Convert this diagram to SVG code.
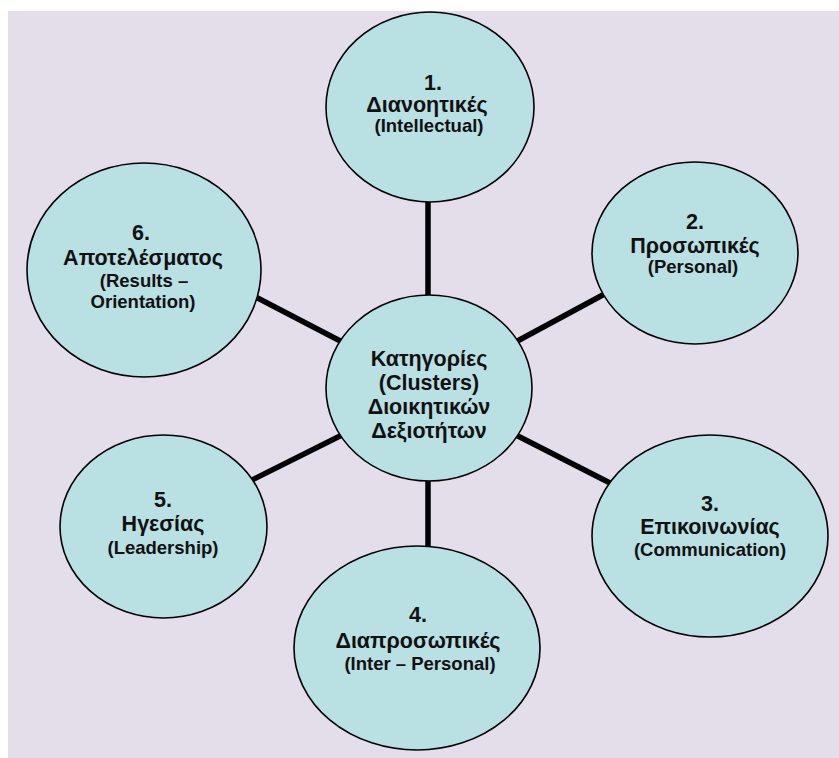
<svg xmlns="http://www.w3.org/2000/svg" width="839" height="758" viewBox="0 0 839 758">
<style>
.bg{fill:#e3deea}
.node{fill:#b9e0e3;stroke:#000;stroke-width:1.6}
.edge{stroke:#000;stroke-width:5.5;fill:none}
text{font-family:"Liberation Sans",Arial,sans-serif;font-weight:bold;fill:#111;text-anchor:middle}
.t{font-size:21.5px}
.e{font-size:18.5px}
.c{font-size:21.5px}
</style>
<rect x="0" y="0" width="839" height="758" fill="#ffffff"/>
<rect class="bg" x="8" y="11" width="831" height="747"/>
<g id="connectors">
<line class="edge" x1="428" y1="195" x2="428" y2="300"/>
<line class="edge" x1="510" y1="345" x2="612" y2="290"/>
<line class="edge" x1="510" y1="432" x2="612" y2="484"/>
<line class="edge" x1="428" y1="475" x2="428" y2="552"/>
<line class="edge" x1="348" y1="432" x2="246" y2="483"/>
<line class="edge" x1="348" y1="345" x2="250" y2="294"/>
</g>
<g id="center">
<ellipse class="node" cx="429" cy="388" rx="103" ry="93"/>
<text class="c" x="429" y="366">Κατηγορίες</text>
<text class="c" x="429" y="390">(Clusters)</text>
<text class="c" x="429" y="414">Διοικητικών</text>
<text class="c" x="429" y="438">Δεξιοτήτων</text>
</g>
<g id="n1">
<ellipse class="node" cx="430" cy="107" rx="104" ry="95"/>
<text class="t" x="433" y="90">1.</text>
<text class="t" x="427" y="112">Διανοητικές</text>
<text class="e" x="429" y="132">(Intellectual)</text>
</g>
<g id="n2">
<ellipse class="node" cx="695" cy="253" rx="103" ry="91"/>
<text class="t" x="695" y="229">2.</text>
<text class="t" x="695" y="253">Προσωπικές</text>
<text class="e" x="693" y="273">(Personal)</text>
</g>
<g id="n3">
<ellipse class="node" cx="710" cy="536" rx="118" ry="101"/>
<text class="t" x="710" y="511">3.</text>
<text class="t" x="710" y="534">Επικοινωνίας</text>
<text class="e" x="710" y="556">(Communication)</text>
</g>
<g id="n4">
<ellipse class="node" cx="417" cy="648" rx="123" ry="102"/>
<text class="t" x="418" y="622">4.</text>
<text class="t" x="418" y="648">Διαπροσωπικές</text>
<text class="e" x="420" y="670">(Inter – Personal)</text>
</g>
<g id="n5">
<ellipse class="node" cx="163.5" cy="526.5" rx="103.5" ry="91.5"/>
<text class="t" x="163" y="507">5.</text>
<text class="t" x="163" y="531">Ηγεσίας</text>
<text class="e" x="163" y="554">(Leadership)</text>
</g>
<g id="n6">
<ellipse class="node" cx="144" cy="270" rx="117" ry="107"/>
<text class="t" x="141" y="240">6.</text>
<text class="t" x="143" y="265">Αποτελέσματος</text>
<text class="e" x="144" y="287">(Results –</text>
<text class="e" x="143" y="308">Orientation)</text>
</g>
</svg>
